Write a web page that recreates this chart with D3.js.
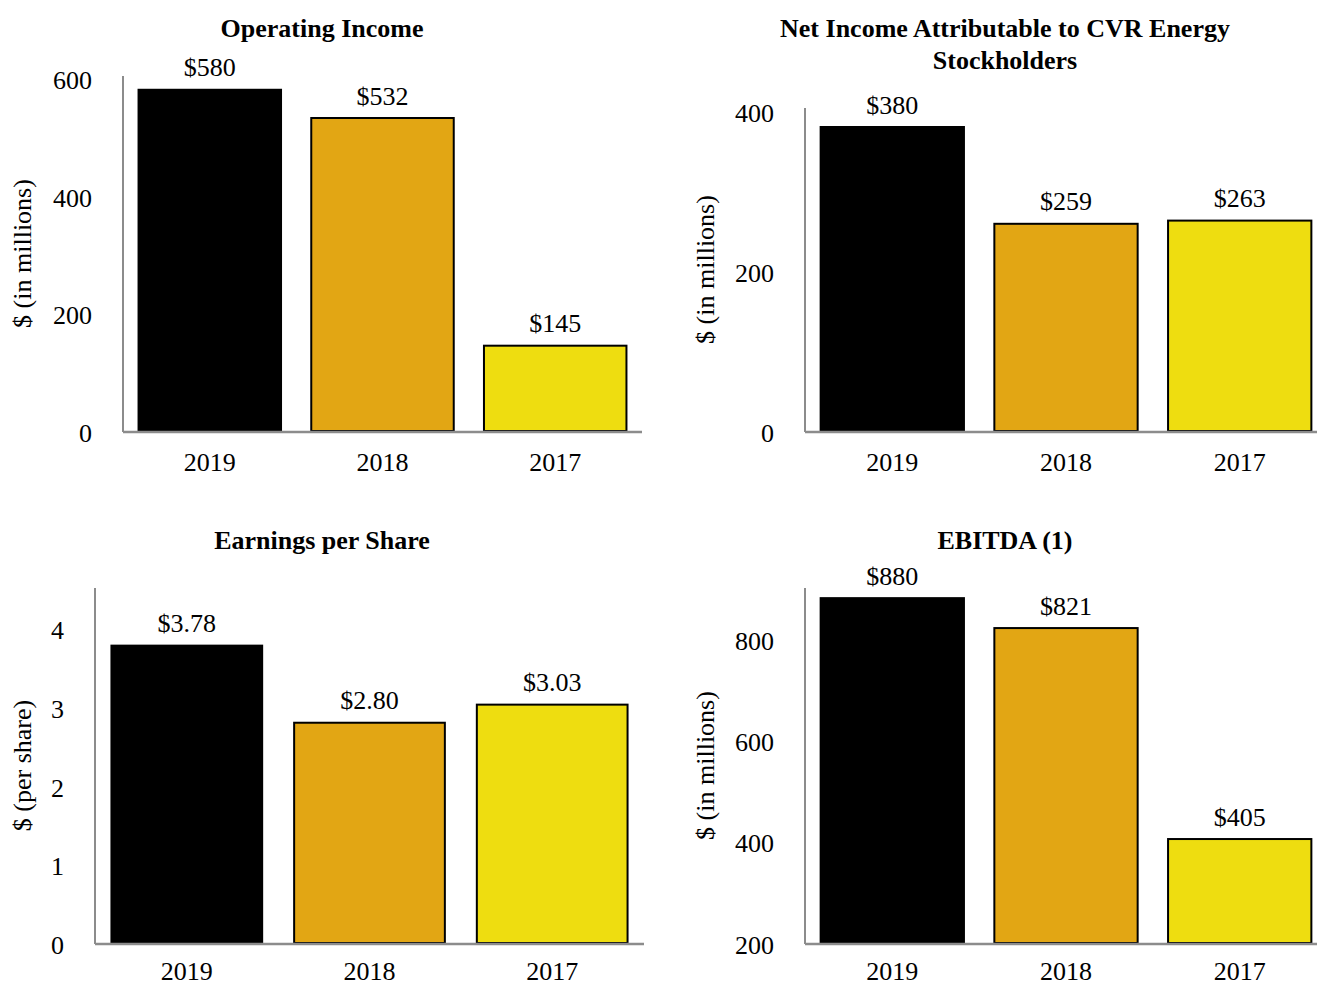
<!DOCTYPE html>
<html>
<head>
<meta charset="utf-8">
<script src="https://cdn.jsdelivr.net/npm/d3@7"></script>
<style>
  html, body { margin: 0; padding: 0; background: #ffffff; }
  svg { display: block; }
  text { font-family: "Times New Roman", "Liberation Serif", Tinos, "DejaVu Serif", serif; fill: #000; }
</style>
</head>
<body>
<svg id="chart" width="1317" height="986"></svg>
<script>
// Fiscal years shown in every panel
const years = ["2019", "2018", "2017"];

// Panel values
const operatingIncome = [580, 532, 145];
const netIncome = [380, 259, 263];
const earningsPerShare = [3.78, 2.80, 3.03];
const ebitda = [880, 821, 405];

// Y-axis tick values
const operatingTicks = [0, 200, 400, 600];
const netIncomeTicks = [0, 200, 400];
const epsTicks = [0, 1, 2, 3, 4];
const ebitdaTicks = [200, 400, 600, 800];

// Bar fills by year
const barColors = ["#000000", "#e2a614", "#eedd10"];

const FONT = "\"Times New Roman\", \"Liberation Serif\", Tinos, \"DejaVu Serif\", serif";

const svg = d3.select("#chart");

const panels = [
  {
    title: ["Operating Income"], titleX: 322, titleY: 28,
    values: operatingIncome, ticks: operatingTicks, domain: [0, 600],
    x0: 123, x1: 642, yTop: 78, yBase: 431, axisTop: 76, yearPad: 22,
    yLabel: "$ (in millions)", yLabelX: 22,
    fmt: d => "$" + d3.format("d")(d)
  },
  {
    title: ["Net Income Attributable to CVR Energy", "Stockholders"], titleX: 1005, titleY: 28,
    values: netIncome, ticks: netIncomeTicks, domain: [0, 400],
    x0: 805, x1: 1327, yTop: 111, yBase: 431, axisTop: 108, yearPad: 22,
    yLabel: "$ (in millions)", yLabelX: 705,
    fmt: d => "$" + d3.format("d")(d)
  },
  {
    title: ["Earnings per Share"], titleX: 322, titleY: 540,
    values: earningsPerShare, ticks: epsTicks, domain: [0, 4.5],
    x0: 95, x1: 644, yTop: 589, yBase: 943, axisTop: 588, yearPad: 19,
    yLabel: "$ (per share)", yLabelX: 22,
    fmt: d => "$" + d3.format(".2f")(d)
  },
  {
    title: ["EBITDA (1)"], titleX: 1005, titleY: 540,
    values: ebitda, ticks: ebitdaTicks, domain: [200, 900],
    x0: 805, x1: 1327, yTop: 588, yBase: 943, axisTop: 588, yearPad: 19,
    yLabel: "$ (in millions)", yLabelX: 705,
    fmt: d => "$" + d3.format("d")(d)
  }
];

panels.forEach(p => {
  const g = svg.append("g");

  const x = d3.scaleBand()
    .domain(years)
    .range([p.x0, p.x1])
    .paddingInner(0.175)
    .paddingOuter(0.09);

  const y = d3.scaleLinear()
    .domain(p.domain)
    .range([p.yBase, p.yTop]);

  // Title (one or two lines)
  g.selectAll("text.title")
    .data(p.title)
    .join("text")
    .attr("class", "title")
    .attr("x", p.titleX)
    .attr("y", (d, i) => p.titleY + i * 32)
    .attr("dy", "0.35em")
    .attr("text-anchor", "middle")
    .style("font-size", "26px")
    .style("font-weight", "bold")
    .text(d => d);

  // Bars
  g.selectAll("rect.bar")
    .data(p.values)
    .join("rect")
    .attr("class", "bar")
    .attr("x", (d, i) => x(years[i]))
    .attr("width", x.bandwidth())
    .attr("y", d => y(d))
    .attr("height", d => y(p.domain[0]) - y(d))
    .attr("fill", (d, i) => barColors[i])
    .attr("stroke", "#000")
    .attr("stroke-width", 2);

  // Value labels above bars
  g.selectAll("text.value")
    .data(p.values)
    .join("text")
    .attr("class", "value")
    .attr("x", (d, i) => x(years[i]) + x.bandwidth() / 2)
    .attr("y", d => y(d) - 22.5)
    .attr("dy", "0.35em")
    .attr("text-anchor", "middle")
    .style("font-size", "26px")
    .text(d => p.fmt(d));

  // Y axis: vertical line plus tick labels
  const yAxis = d3.axisLeft(y)
    .tickValues(p.ticks)
    .tickSize(0)
    .tickPadding(31)
    .tickFormat(d3.format("d"));

  const ya = g.append("g")
    .attr("transform", `translate(${p.x0},0)`)
    .call(yAxis);
  ya.select(".domain").remove();
  ya.selectAll("text")
    .attr("dy", "0.4em")
    .style("font-size", "26px")
    .style("font-family", FONT)
    .attr("fill", "#000");

  g.append("line")
    .attr("x1", p.x0).attr("x2", p.x0)
    .attr("y1", p.axisTop).attr("y2", p.yBase + 1)
    .attr("stroke", "#8c8c8c")
    .attr("stroke-width", 2);

  // X axis: baseline plus year labels
  const xAxis = d3.axisBottom(x).tickSize(0).tickPadding(p.yearPad);
  const xa = g.append("g")
    .attr("transform", `translate(0,${p.yBase})`)
    .call(xAxis);
  xa.select(".domain").remove();
  xa.selectAll("text")
    .style("font-size", "26px")
    .style("font-family", FONT)
    .attr("fill", "#000");

  g.append("line")
    .attr("x1", p.x0).attr("x2", p.x1)
    .attr("y1", p.yBase + 1).attr("y2", p.yBase + 1)
    .attr("stroke", "#8c8c8c")
    .attr("stroke-width", 2.5);

  // Rotated y-axis title
  g.append("text")
    .attr("transform", `translate(${p.yLabelX},${(p.axisTop + p.yBase) / 2}) rotate(-90)`)
    .attr("dy", "0.35em")
    .attr("text-anchor", "middle")
    .style("font-size", "26px")
    .text(p.yLabel);
});
</script>
</body>
</html>
